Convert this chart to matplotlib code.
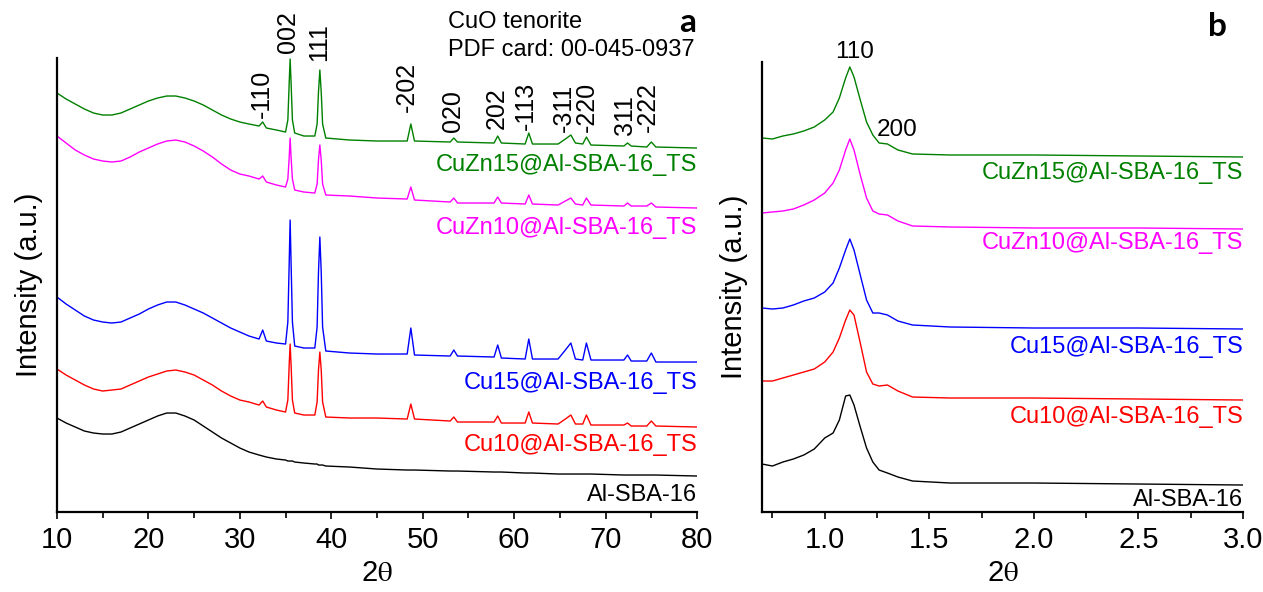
import matplotlib
matplotlib.use('Agg')
import matplotlib.pyplot as plt
from matplotlib.ticker import MultipleLocator, FormatStrFormatter

plt.rcParams['font.family'] = ['Liberation Sans', 'DejaVu Sans']
plt.rcParams['mathtext.fontset'] = 'stix'

# ---- panel a: wide angle XRD (2theta, intensity in a.u.) ----
tt_wide = [10, 11, 12, 13, 14, 15, 16, 17, 18, 19,
           20, 21, 22, 23, 24, 25, 26, 27, 28, 29,
           30, 31, 32.1, 32.5, 32.9, 34, 35.0, 35.25, 35.4, 35.5,
           35.6, 35.75, 36.0, 37, 38.2, 38.45, 38.6, 38.75, 38.9, 39.05,
           39.4, 42, 45, 48.3, 48.7, 49.1, 53.0, 53.4, 53.8, 57.8,
           58.2, 58.6, 61.2, 61.6, 62.0, 64.8, 65.6, 66.2, 66.7, 67.5,
           67.9, 68.4, 72.0, 72.4, 72.8, 74.5, 75.0, 75.5, 80]

cuzn15_wide = [419, 413, 408, 403, 399, 397, 397, 399, 403, 407,
               411, 414, 416, 416, 414, 411, 407, 402, 397, 393,
               390, 388, 386, 390, 384, 382, 380, 392, 430, 453,
               430, 392, 379, 376, 376, 388, 420, 442, 420, 388,
               374, 372, 371, 371, 388, 371, 370, 374, 370, 369,
               376, 369, 368, 379, 368, 368, 373, 377, 369, 368,
               375, 367, 366, 369, 366, 365, 370, 365, 364]
cuzn10_wide = [376, 369, 362, 357, 353, 351, 350, 351, 355, 360,
               364, 368, 371, 372, 370, 366, 361, 355, 348, 342,
               338, 336, 333, 336, 330, 327, 325, 333, 355, 374,
               355, 333, 322, 320, 319, 328, 352, 367, 352, 328,
               317, 316, 314, 313, 325, 312, 310, 314, 309, 309,
               315, 309, 308, 317, 308, 307, 311, 314, 308, 307,
               314, 307, 306, 309, 306, 306, 309, 305, 304]
cu15_wide = [215, 208, 202, 196, 192, 190, 189, 190, 194, 198,
             203, 207, 210, 210, 207, 203, 199, 194, 189, 184,
             180, 176, 173, 182, 171, 169, 168, 190, 250, 292,
             250, 190, 166, 164, 164, 185, 240, 275, 240, 185,
             161, 159, 158, 158, 184, 157, 156, 162, 156, 155,
             167, 154, 153, 173, 153, 153, 162, 169, 153, 152,
             169, 152, 152, 157, 151, 151, 159, 150, 150]
cu10_wide = [143, 137, 132, 127, 123, 121, 122, 123, 127, 131,
             135, 138, 141, 142, 140, 137, 132, 127, 121, 116,
             112, 110, 107, 111, 105, 102, 100, 112, 148, 168,
             148, 112, 99, 97, 97, 110, 142, 160, 142, 110,
             95, 94, 94, 93, 108, 93, 91, 95, 90, 90,
             96, 89, 89, 100, 89, 88, 93, 97, 88, 88,
             97, 87, 87, 89, 86, 86, 91, 86, 85]
alsba_wide = [94, 89, 85, 81, 79, 78, 78, 80, 84, 88,
              92, 96, 99, 99, 96, 92, 86, 80, 74, 69,
              64, 60, 57, 56, 55, 53, 52, 51, 51, 51,
              51, 51, 50, 49, 48, 48, 47, 47, 47, 47,
              46, 45, 43, 42, 42, 42, 41, 41, 41, 40,
              40, 40, 39, 39, 39, 38, 38, 38, 38, 38,
              38, 38, 37, 37, 37, 37, 37, 37, 36]

# CuO tenorite reflections (PDF 00-045-0937)
hkl_labels = ['-110', '002', '111', '-202', '020', '202', '-113', '-311', '-220', '311', '-222']
hkl_pos = [32.4, 35.3, 38.7, 48.3, 53.3, 58.1, 61.3, 65.4, 67.9, 72.1, 74.6]
hkl_y = [394, 459, 451, 400, 380, 383, 382, 380, 380, 377, 380]

# ---- panel b: low angle ----
tt_low = [0.70, 0.75, 0.80, 0.85, 0.90, 0.95, 1.00, 1.04, 1.07, 1.10,
          1.12, 1.14, 1.17, 1.20, 1.23, 1.26, 1.30, 1.35, 1.42, 1.60,
          2.00, 2.50, 3.00]
cuzn15_low = [374, 373, 376, 378, 381, 385, 392, 400, 414, 434,
              445, 435, 412, 390, 377, 369, 368, 362, 358, 357,
              357, 356, 355]
cuzn10_low = [299, 300, 301, 303, 307, 312, 319, 329, 342, 362,
              373, 362, 337, 314, 301, 298, 297, 291, 286, 285,
              284, 284, 283]
cu15_low = [204, 203, 204, 207, 211, 214, 220, 229, 244, 262,
            273, 262, 237, 212, 199, 199, 197, 191, 187, 185,
            184, 184, 183]
cu10_low = [131, 131, 134, 137, 140, 143, 150, 160, 174, 192,
            202, 197, 169, 140, 128, 126, 127, 121, 115, 114,
            114, 113, 112]
alsba_low = [48, 46, 50, 53, 57, 63, 74, 79, 92, 116,
             117, 107, 85, 64, 50, 42, 39, 35, 31, 29,
             29, 28, 27]

names = ['CuZn15@Al-SBA-16_TS', 'CuZn10@Al-SBA-16_TS', 'Cu15@Al-SBA-16_TS',
         'Cu10@Al-SBA-16_TS', 'Al-SBA-16']
colors = ['#008000', '#ff00ff', '#0000ff', '#ff0000', 'black']
wide = [cuzn15_wide, cuzn10_wide, cu15_wide, cu10_wide, alsba_wide]
low = [cuzn15_low, cuzn10_low, cu15_low, cu10_low, alsba_low]
label_y_wide = [347, 284, 129, 67, 17]
label_y_low = [339, 269, 165, 95, 12]

fig = plt.figure(figsize=(12.63, 5.92), dpi=100)
ax1 = fig.add_axes([0.0451, 0.1351, 0.5068, 0.7669])
ax2 = fig.add_axes([0.6033, 0.1351, 0.3809, 0.7602])


def style_axis(ax):
    for s in ['top', 'right']:
        ax.spines[s].set_visible(False)
    for s in ['left', 'bottom']:
        ax.spines[s].set_linewidth(1.6)
    ax.set_yticks([])
    ax.tick_params(axis='x', which='both', direction='out', width=1.2, labelsize=21, pad=5)
    ax.tick_params(axis='x', which='major', length=5)
    ax.tick_params(axis='x', which='minor', length=4)
    ax.set_ylabel('Intensity (a.u.)', fontsize=21, labelpad=10)
    ax.set_xlabel(r'2$\mathrm{\theta}$', fontsize=21, labelpad=4)


for y, c, n, ly in zip(wide, colors, names, label_y_wide):
    ax1.plot(tt_wide, y, color=c, lw=1.0)
    ax1.text(80, ly, n, color=c, fontsize=17, ha='right', va='center')
for lab, xp, yp in zip(hkl_labels, hkl_pos, hkl_y):
    ax1.text(xp, yp, lab, rotation=90, ha='center', va='bottom', fontsize=18, clip_on=False)
ax1.set_xlim(10, 80)
ax1.set_ylim(0, 454)
ax1.xaxis.set_major_locator(MultipleLocator(10))
ax1.xaxis.set_minor_locator(MultipleLocator(5))
style_axis(ax1)

for y, c, n, ly in zip(low, colors, names, label_y_low):
    ax2.plot(tt_low, y, color=c, lw=1.0)
    ax2.text(3.0, ly, n, color=c, fontsize=17, ha='right', va='center')
ax2.text(1.145, 460, '110', fontsize=17.5, ha='center', va='center')
ax2.text(1.345, 382, '200', fontsize=17.5, ha='center', va='center')
ax2.set_xlim(0.7, 3.0)
ax2.set_ylim(0, 450)
ax2.xaxis.set_major_locator(MultipleLocator(0.5))
ax2.xaxis.set_minor_locator(MultipleLocator(0.25))
ax2.xaxis.set_major_formatter(FormatStrFormatter('%.1f'))
style_axis(ax2)

fig.text(448 / 1263, 1 - 22 / 592, 'CuO tenorite', fontsize=17, va='center')
fig.text(448 / 1263, 1 - 50 / 592, 'PDF card: 00-045-0937', fontsize=17, va='center')
fig.text(688 / 1263, 1 - 22 / 592, 'a', fontsize=24, fontweight='bold', family='Lato', ha='center', va='center')
fig.text(1217 / 1263, 1 - 26 / 592, 'b', fontsize=24, fontweight='bold', family='Lato', ha='center', va='center')

plt.savefig('out.png', dpi=100)
